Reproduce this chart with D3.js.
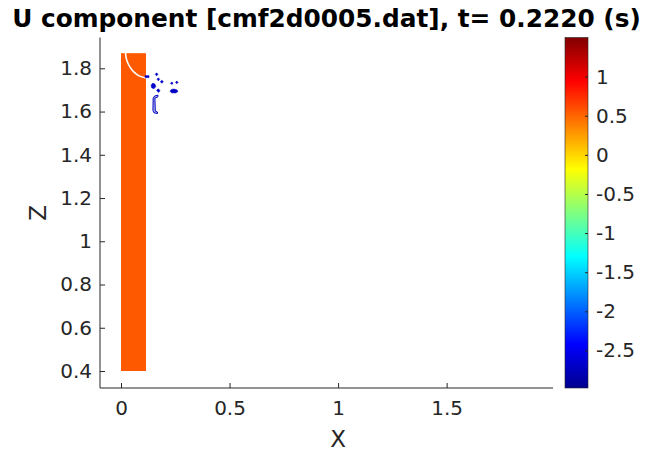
<!DOCTYPE html>
<html lang="en">
<head>
  <meta charset="UTF-8">
  <title>U component</title>
  <style>
    body { margin: 0; background: #ffffff; }
    svg text { font-family: "DejaVu Sans", sans-serif; fill: #262626; }
    .axis line, .axis path { fill: none; stroke: #262626; }
    .axis text { font-size: 20px; }
  </style>
</head>
<body>
<svg id="chart" width="646" height="452"></svg>

<script src="https://cdn.jsdelivr.net/npm/d3@7"></script>
<script>
  "use strict";

  // data
  var titleText = "U component [cmf2d0005.dat], t= 0.2220 (s)";
  var xTicks = [0, 0.5, 1, 1.5];
  var zTicks = [0.4, 0.6, 0.8, 1, 1.2, 1.4, 1.6, 1.8];
  var cTicks = [-2.5, -2, -1.5, -1, -0.5, 0, 0.5, 1];
  var xRange = [-0.0968, 1.99];
  var zRange = [0.3214, 1.9425];
  var uRange = [-2.98, 1.5];

  // filled region of the field (x0, x1, z0, z1, u)
  var cells = [
    { x0: 0, x1: 0.115, z0: 0.4, z1: 1.87, u: 0.55 }
  ];
  // white interface curve inside the column
  var interfaceLine = [[0.021, 1.871], [0.023, 1.852], [0.030, 1.828], [0.043, 1.803],
    [0.060, 1.782], [0.083, 1.765], [0.115, 1.755]];
  // small low-velocity patches
  var specks = [
    { u: -2.7, pts: [[0.111, 1.766], [0.129, 1.766], [0.129, 1.757], [0.111, 1.757]] },
    { u: -2.7, pts: [[0.158, 1.772], [0.164, 1.779], [0.170, 1.772], [0.164, 1.765]] },
    { u: -2.7, pts: [[0.166, 1.749], [0.172, 1.756], [0.178, 1.749], [0.172, 1.742]] },
    { u: -2.7, pts: [[0.181, 1.738], [0.188, 1.745], [0.195, 1.738], [0.188, 1.731]] },
    { u: -2.7, pts: [[0.139, 1.722], [0.146, 1.731], [0.156, 1.727], [0.160, 1.716], [0.152, 1.706], [0.141, 1.710]] },
    { u: -2.7, pts: [[0.164, 1.698], [0.171, 1.705], [0.180, 1.697], [0.173, 1.688]] },
    { u: -2.7, pts: [[0.228, 1.731], [0.234, 1.737], [0.240, 1.731], [0.234, 1.725]] },
    { u: -2.7, pts: [[0.251, 1.735], [0.257, 1.741], [0.263, 1.735], [0.257, 1.729]] },
    { u: -2.7, pts: [[0.226, 1.694], [0.232, 1.702], [0.244, 1.704], [0.258, 1.700], [0.262, 1.692], [0.250, 1.686], [0.232, 1.687]] }
  ];
  var hook = { u: -2.7, pts: [[0.170, 1.676], [0.155, 1.672], [0.148, 1.662], [0.147, 1.605], [0.152, 1.594],
    [0.168, 1.591], [0.168, 1.598], [0.158, 1.602], [0.156, 1.662], [0.170, 1.668]] };

  // layout
  var plot = { left: 100, right: 553, top: 37.5, bottom: 388 };
  var bar = { left: 565, right: 588 };

  var svg = d3.select("#chart");

  var x = d3.scaleLinear().domain(xRange).range([plot.left, plot.right]);
  var z = d3.scaleLinear().domain(zRange).range([plot.bottom, plot.top]);
  var cy = d3.scaleLinear().domain(uRange).range([plot.bottom, plot.top]);

  // jet colormap
  var jetStops = [0, 0.125, 0.375, 0.625, 0.875, 1];
  var jetColors = ["#00008f", "#0000ff", "#00ffff", "#ffff00", "#ff0000", "#800000"];
  var jet = d3.scaleLinear().domain(jetStops).range(jetColors).interpolate(d3.interpolateRgb);
  var color = function(u) {
    return jet((u - uRange[0]) / (uRange[1] - uRange[0]));
  };

  // field
  svg.append("g")
    .selectAll("rect")
    .data(cells)
    .enter()
    .append("rect")
    .attr("x", function(d){ return x(d.x0); })
    .attr("y", function(d){ return z(d.z1); })
    .attr("width", function(d){ return x(d.x1) - x(d.x0); })
    .attr("height", function(d){ return z(d.z0) - z(d.z1); })
    .attr("fill", function(d){ return color(d.u); });

  var line = d3.line()
    .x(function(d){ return x(d[0]); })
    .y(function(d){ return z(d[1]); })
    .curve(d3.curveCatmullRom);

  svg.append("path")
    .datum(interfaceLine)
    .attr("d", line)
    .attr("fill", "none")
    .attr("stroke", "#ffffff")
    .attr("stroke-width", 1.6);

  var poly = d3.line()
    .x(function(d){ return x(d[0]); })
    .y(function(d){ return z(d[1]); })
    .curve(d3.curveLinearClosed);

  svg.append("g")
    .selectAll("path")
    .data(specks)
    .enter()
    .append("path")
    .attr("d", function(d){ return poly(d.pts); })
    .attr("fill", function(d){ return color(d.u); })
    .attr("stroke", function(d){ return color(d.u); })
    .attr("stroke-width", 0.6);

  svg.append("path")
    .datum(hook)
    .attr("d", function(d){ return poly(d.pts); })
    .attr("fill", "#b4bce0")
    .attr("stroke", function(d){ return color(d.u); })
    .attr("stroke-width", 1);

  // axes (ticks point inward)
  svg.append("g")
    .attr("class", "axis")
    .attr("transform", "translate(0," + plot.bottom + ")")
    .call(d3.axisBottom(x).tickValues(xTicks).tickSize(-5).tickPadding(13).tickFormat(d3.format("")))
    .call(function(g){ g.select(".domain").attr("d", "M" + plot.left + ",0H" + plot.right); });

  svg.append("g")
    .attr("class", "axis")
    .attr("transform", "translate(" + plot.left + ",0)")
    .call(d3.axisLeft(z).tickValues(zTicks).tickSize(-5).tickPadding(8).tickFormat(d3.format("")))
    .call(function(g){ g.select(".domain").attr("d", "M0," + plot.top + "V" + plot.bottom); });

  // colorbar
  var grad = svg.append("defs").append("linearGradient")
    .attr("id", "jetGrad")
    .attr("x1", 0).attr("y1", 1).attr("x2", 0).attr("y2", 0);
  grad.selectAll("stop")
    .data(jetStops)
    .enter()
    .append("stop")
    .attr("offset", function(d){ return d; })
    .attr("stop-color", function(d, i){ return jetColors[i]; });

  svg.append("rect")
    .attr("x", bar.left)
    .attr("y", cy(uRange[1]))
    .attr("width", bar.right - bar.left)
    .attr("height", cy(uRange[0]) - cy(uRange[1]))
    .attr("fill", "url(#jetGrad)")
    .attr("stroke", "#262626")
    .attr("stroke-width", 0.6);

  var cbAxis = svg.append("g")
    .attr("class", "axis")
    .attr("transform", "translate(" + bar.right + ",0)")
    .call(d3.axisRight(cy).tickValues(cTicks).tickSize(-3).tickPadding(8).tickFormat(d3.format("")));
  cbAxis.select(".domain").remove();
  cbAxis.selectAll("text").text(function(d){ return d < 0 ? "-" + Math.abs(d) : d; });

  // labels
  svg.append("text")
    .attr("x", (plot.left + plot.right) / 2)
    .attr("y", 27)
    .attr("text-anchor", "middle")
    .style("font-size", "24.8px")
    .style("font-weight", "bold")
    .style("fill", "#000000")
    .text(titleText);

  svg.append("text")
    .attr("x", x(1))
    .attr("y", 447)
    .attr("text-anchor", "middle")
    .style("font-size", "23px")
    .text("X");

  svg.append("text")
    .attr("transform", "translate(46," + ((plot.top + plot.bottom) / 2) + ") rotate(-90)")
    .attr("text-anchor", "middle")
    .style("font-size", "23px")
    .text("Z");
</script>
</body>
</html>
